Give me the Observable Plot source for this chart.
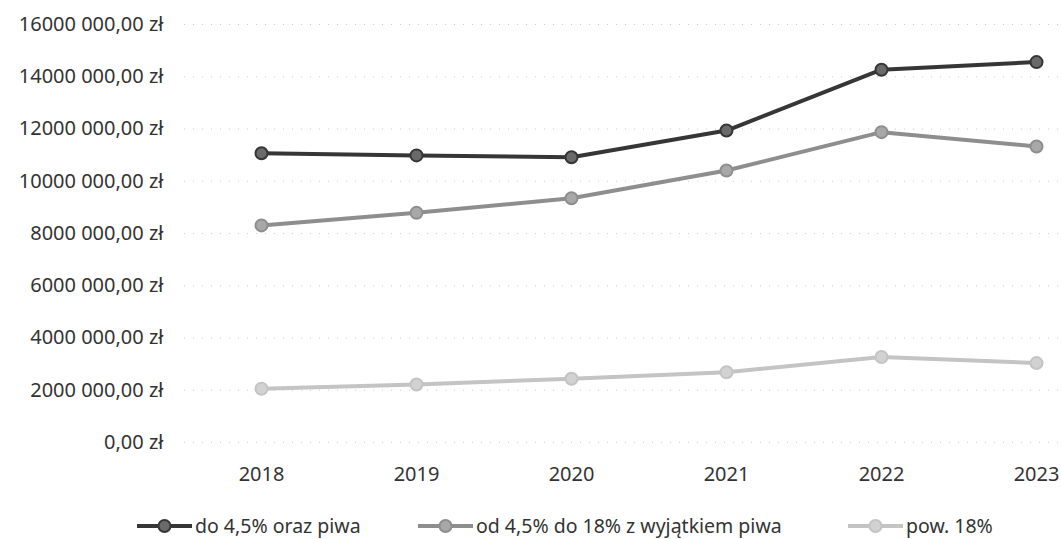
<!DOCTYPE html>
<html><head><meta charset="utf-8">
<script src="https://cdn.jsdelivr.net/npm/d3@7"></script>
<script src="https://cdn.jsdelivr.net/npm/@observablehq/plot@0.6"></script>
<style>
body{margin:0;background:#fff;font-family:"Noto Sans",sans-serif;}
#wrap{position:relative;width:1061px;height:539px;overflow:hidden;background:#fff}
#legend{position:absolute;left:0;top:512px;width:1061px;height:27px}
.item{position:absolute;top:0;height:27px;display:flex;align-items:center;font-size:19.5px;color:#333;white-space:nowrap}
.item svg{margin-right:3px}
</style></head><body><div id="wrap"><div id="chart"></div><div id="legend"></div></div>
<script>
const years = [2018, 2019, 2020, 2021, 2022, 2023];
const seriesNames = ["do 4,5% oraz piwa", "od 4,5% do 18% z wyjątkiem piwa", "pow. 18%"];
const seriesA = [11070000, 10990000, 10920000, 11940000, 14270000, 14560000];
const seriesB = [8310000, 8790000, 9350000, 10410000, 11880000, 11330000];
const seriesC = [2060000, 2220000, 2440000, 2690000, 3270000, 3040000];
const seriesColors = ["#363636", "#8e8e8e", "#c4c4c4"];
const markerFills = ["#6a6a6a", "#a8a8a8", "#d2d2d2"];
const yTicks = [0, 2000000, 4000000, 6000000, 8000000, 10000000, 12000000, 14000000, 16000000];
const yTickLabels = ["0,00 zł", "2000 000,00 zł", "4000 000,00 zł", "6000 000,00 zł", "8000 000,00 zł",
  "10000 000,00 zł", "12000 000,00 zł", "14000 000,00 zł", "16000 000,00 zł"];
const legendLeft = [137, 418, 848];

const allSeries = [seriesA, seriesB, seriesC];
const data = [];
allSeries.forEach((vals, si) => vals.forEach((v, i) => data.push({series: seriesNames[si], year: years[i], value: v})));

const chart = Plot.plot({
  width: 1061, height: 490,
  marginLeft: 184, marginRight: 0, marginTop: 24, marginBottom: 48,
  style: {fontFamily: "Noto Sans", fontSize: "20px", color: "#333", background: "white"},
  x: {type: "point", domain: years, range: [261, 1036], padding: 0},
  y: {domain: [0, 16000000]},
  color: {domain: seriesNames, range: seriesColors},
  marks: [
    Plot.gridY(yTicks, {stroke: "#999", strokeOpacity: 0.5, strokeDasharray: "1,8"}),
    Plot.axisY(yTicks, {tickSize: 0, tickPadding: 21, label: null, tickFormat: d => yTickLabels[yTicks.indexOf(d)]}),
    Plot.axisX(years, {tickSize: 0, tickPadding: 24, label: null, tickFormat: d => String(d)}),
    Plot.line(data, {x: "year", y: "value", z: "series", stroke: "series", strokeWidth: 4}),
    Plot.dot(data, {x: "year", y: "value", fill: d => markerFills[seriesNames.indexOf(d.series)], stroke: "series", strokeWidth: 2, r: 6})
  ]
});
document.getElementById("chart").appendChild(chart);

const legend = document.getElementById("legend");
seriesNames.forEach((name, i) => {
  const item = document.createElement("div");
  item.className = "item";
  item.style.left = legendLeft[i] + "px";
  const c = seriesColors[i];
  item.innerHTML = `<svg width="55" height="14"><line x1="0" y1="7" x2="55" y2="7" stroke="${c}" stroke-width="4"/><circle cx="27.5" cy="7" r="6" fill="${markerFills[i]}" stroke="${c}" stroke-width="2"/></svg>`;
  const span = document.createElement("span");
  span.textContent = name;
  item.appendChild(span);
  legend.appendChild(item);
});
</script></body></html>
